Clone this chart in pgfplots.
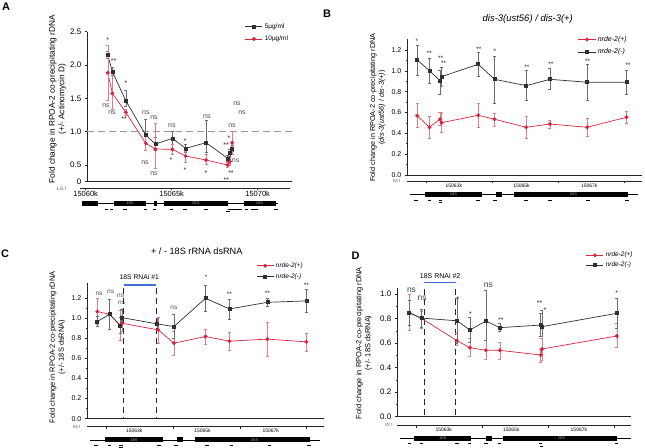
\documentclass[border=0pt]{standalone}
\usepackage{fontspec}
\setmainfont{Liberation Sans}
\usepackage{pgfplots}
\pgfplotsset{compat=1.18}
\definecolor{cblk}{HTML}{303030}
\definecolor{cblkerr}{HTML}{6E6E6E}
\definecolor{cred}{HTML}{D7263D}
\definecolor{crederr}{HTML}{E27C88}
\definecolor{cblue}{HTML}{3D6FD6}
\newcommand{\fs}[2]{\fontsize{#1}{#2}\selectfont}
\pgfplotsset{
  mainax/.style={scale only axis, axis x line*=bottom, axis y line*=left, xtick=\empty,
    scaled x ticks=false, scaled y ticks=false,
    tick align=outside, clip=false, axis line style={line width=0.6pt, black!85},
    major tick length=2.5pt, minor tick length=1.5pt, tick style={line width=0.5pt, black!85},
    /pgf/number format/assume math mode=true,
    ylabel style={align=center, anchor=center},
    legend style={draw=none, fill=none, inner sep=0pt, anchor=north west, cells={anchor=west}}},
  genax/.style={scale only axis, axis x line*=bottom, hide y axis, ymin=0, ymax=10, height=10bp,
    scaled x ticks=false,
    clip=false, tick align=outside, major tick length=2pt, axis line style={line width=0.6pt, black!85},
    tick style={line width=0.5pt, black!85}, /pgf/number format/assume math mode=true},
  sblk/.style={color=cblk, mark=square*, mark size=1.5pt, line width=0.7pt, mark options={solid, fill=cblk},
    error bars/y dir=both, error bars/y explicit,
    error bars/error bar style={cblkerr, line width=0.5pt},
    error bars/error mark options={rotate=90, mark size=1.5pt, cblkerr, line width=0.5pt}},
  sred/.style={color=cred, mark=*, mark size=1.6pt, line width=0.7pt, mark options={solid, fill=cred},
    error bars/y dir=both, error bars/y explicit,
    error bars/error bar style={crederr, line width=0.5pt},
    error bars/error mark options={rotate=90, mark size=1.5pt, crederr, line width=0.5pt}},
}
\tikzset{
  nsA/.style={font=\fs{7}{7}, inner sep=0pt, text=black!70},
  stA/.style={font=\fs{7}{7}, inner sep=0pt, text=black!85, yshift=-1.5pt},
  stB/.style={font=\fs{6.5}{7}, inner sep=0pt, text=black!85, yshift=-1.4pt},
  nsC/.style={font=\fs{6.5}{7}, inner sep=0pt, text=black!70},
  nsD/.style={font=\fs{8.5}{9}, inner sep=0pt, text=black!75},
  stD/.style={font=\fs{7}{7}, inner sep=0pt, text=black!85, yshift=-1.5pt},
  genlab/.style={font=\fs{4}{4}, inner sep=0pt, text=gray!70},
  letter/.style={font=\fs{11}{11}\bfseries, inner sep=0pt},
  lg/.style={font=\fs{4.5}{5}, inner sep=0pt, text=black!70},
}
\begin{document}
\begin{tikzpicture}
\path[use as bounding box] (0bp,0bp) rectangle (645bp,448bp);

%================ PANEL A =================
\begin{axis}[mainax, at={(87.3bp,266.3bp)}, anchor=south west, width=204.7bp, height=150bp,
  xmin=15060.09, xmax=15072, ymin=0.25, ymax=2.5,
  ytick={0.25,0.5,1,1.5,2,2.5}, yticklabels={0,0.5,1.0,1.5,2.0,2.5},
  yticklabel style={font=\fs{8}{9}},
  ylabel={Fold change in RPOA-2 co-precipitating rDNA\\(+/- Actinomycin D)},
  ylabel style={font=\fs{8.3}{9.5}, at={(axis description cs:-0.146,0.55)}},
  legend style={at={(axis description cs:0.77,1.068)}, font=\fs{6.5}{7}, row sep=2pt}]
\addplot[gray!80, dash pattern=on 7pt off 4pt, line width=1.1pt, forget plot] coordinates {(15060.09,1) (15072,1)};
\addplot[sblk] table[x=x, y=y, y error plus=ep, y error minus=em] {
x y ep em
15061.28 2.150 0.05 0.05
15061.55 1.900 0.07 0.06
15062.33 1.465 0.16 0.08
15063.49 0.950 0.24 0.12
15064.05 0.815 0.10 0.10
15065.04 0.900 0.10 0.09
15065.81 0.750 0.06 0.06
15067.00 0.835 0.33 0.14
15068.26 0.600 0.04 0.04
15068.39 0.685 0.05 0.05
15068.52 0.750 0.05 0.05
};
\addlegendentry{5µg/ml}
\addplot[sred] table[x=x, y=y, y error plus=ep, y error minus=em] {
x y ep em
15061.28 1.885 0.41 0.41
15061.55 1.575 0.35 0.24
15062.33 1.290 0.04 0.04
15063.49 0.825 0.14 0.10
15064.05 0.740 0.39 0.29
15065.04 0.735 0.07 0.07
15065.81 0.635 0.07 0.09
15067.00 0.575 0.09 0.07
15068.26 0.500 0.04 0.04
15068.39 0.550 0.06 0.06
15068.52 0.835 0.17 0.17
};
\addlegendentry{10µg/ml}
\node[stA] at (axis cs:15061.28,2.40) {*};
\node[stA] at (axis cs:15061.62,2.075) {**};
\node[stA] at (axis cs:15062.34,1.745) {*};
\node[nsA] at (axis cs:15061.18,1.385) {ns};
\node[nsA] at (axis cs:15061.53,1.28) {ns};
\node[stA] at (axis cs:15062.23,1.205) {**};
\node[nsA] at (axis cs:15063.50,1.28) {ns};
\node[nsA] at (axis cs:15063.97,1.205) {ns};
\node[nsA] at (axis cs:15065.01,1.085) {ns};
\node[nsA] at (axis cs:15067.05,1.22) {ns};
\node[nsA] at (axis cs:15068.80,1.415) {ns};
\node[nsA] at (axis cs:15069.09,1.28) {ns};
\node[nsA] at (axis cs:15068.51,1.085) {ns};
\node[nsA] at (axis cs:15063.45,0.53) {ns};
\node[nsA] at (axis cs:15063.97,0.365) {ns};
\node[stA] at (axis cs:15064.96,0.59) {*};
\node[stA] at (axis cs:15065.77,0.875) {*};
\node[stA] at (axis cs:15065.77,0.44) {*};
\node[stA] at (axis cs:15067.00,0.395) {*};
\node[stA] at (axis cs:15068.33,0.92) {*};
\node[stA] at (axis cs:15068.16,0.815) {**};
\node[stA] at (axis cs:15068.45,0.40) {**};
\node[stA] at (axis cs:15068.18,0.30) {**};
\node[nsA] at (axis cs:15068.72,0.56) {ns};
\end{axis}
\begin{axis}[genax, at={(80bp,260bp)}, anchor=south west, width=210bp, xmin=15059.67, xmax=15071.88,
  xtick={15060,15065,15070}, xticklabels={15060k,15065k,15070k}, xticklabel style={font=\fs{7.5}{8}, inner sep=1pt}]
\draw[line width=0.6pt] (axis cs:15059.8,-15.3) -- (axis cs:15071.2,-15.3);
\fill (axis cs:15059.8,-12.7) rectangle (axis cs:15060.7,-18);
\fill (axis cs:15061.66,-12.7) rectangle (axis cs:15063.5,-18);
\fill (axis cs:15063.99,-12.7) rectangle (axis cs:15064.13,-18);
\fill (axis cs:15064.57,-12.7) rectangle (axis cs:15068.26,-18);
\fill (axis cs:15069.2,-12.7) rectangle (axis cs:15071.05,-18);
\node[genlab] at (axis cs:15062.58,-15.4) {18S};
\node[genlab] at (axis cs:15066.4,-15.4) {26S};
\node[genlab] at (axis cs:15070.1,-15.4) {18S};
\addplot[only marks, mark=-, mark size=1.8pt, mark options={line width=0.7pt}] coordinates {
(15061.22,-21) (15061.51,-21) (15062.28,-21) (15063.49,-21) (15063.99,-21) (15065.0,-21)
(15065.79,-21) (15066.99,-21) (15068.39,-21) (15068.58,-21) (15068.78,-21) (15068.97,-21)
(15069.36,-21) (15069.74,-21) (15069.94,-21) (15071.06,-21)};
\addplot[only marks, mark=-, mark size=1.8pt, mark options={line width=0.7pt}] coordinates {(15068.26,-23.5)};
\end{axis}
\node[lg, font=\fs{5}{5}] at (61.7bp,259.7bp) {LG I};
\node[letter] at (6bp,441.3bp) {A};

%================ PANEL B =================
\begin{axis}[mainax, at={(407.3bp,273bp)}, anchor=south west, width=234.4bp, height=135.5bp,
  xmin=15061.42, xmax=15068.52, ymin=0, ymax=1.3,
  ytick={0,0.2,0.4,0.6,0.8,1.0,1.2}, minor y tick num=1,
  yticklabel style={font=\fs{7}{8}, /pgf/number format/.cd, fixed, fixed zerofill, precision=1},
  ylabel={Fold change in RPOA-2 co-precipitating rDNA\\(\textit{dis-3(ust56)} / \textit{dis-3(+)})},
  ylabel style={font=\fs{7.3}{8.8}, at={(axis description cs:-0.127,0.498)}},
  title={\textit{dis-3(ust56) / dis-3(+)}},
  title style={at={(axis description cs:0.514,1.107)}, anchor=center, font=\fs{9.5}{10}},
  legend style={at={(axis description cs:0.728,1.04)}, font=\fs{7}{8}, row sep=2pt}]
\addplot[sred] table[x=x, y=y, y error plus=ep, y error minus=em] {
x y ep em
15061.72 0.569 0.119 0.111
15062.09 0.458 0.102 0.106
15062.41 0.535 0.063 0.060
15062.46 0.502 0.100 0.096
15063.57 0.573 0.115 0.115
15064.06 0.535 0.057 0.071
15065.02 0.458 0.108 0.106
15065.74 0.489 0.039 0.041
15066.87 0.458 0.086 0.090
15068.06 0.554 0.060 0.058
};
\addlegendentry{\textit{nrde-2(+)}}
\addplot[sblk] table[x=x, y=y, y error plus=ep, y error minus=em] {
x y ep em
15061.72 1.104 0.144 0.151
15062.09 1.001 0.120 0.121
15062.41 0.905 0.100 0.128
15062.46 0.944 0.086 0.094
15063.57 1.062 0.112 0.118
15064.06 0.918 0.217 0.230
15065.02 0.857 0.144 0.144
15065.74 0.918 0.102 0.099
15066.87 0.890 0.169 0.173
15068.06 0.890 0.111 0.116
};
\addlegendentry{\textit{nrde-2(-)}}
\node[stB] at (axis cs:15061.71,1.296) {*};
\node[stB] at (axis cs:15062.09,1.183) {**};
\node[stB] at (axis cs:15062.43,1.13) {**};
\node[stB] at (axis cs:15062.52,1.082) {**};
\node[stB] at (axis cs:15063.59,1.216) {**};
\node[stB] at (axis cs:15064.07,1.2) {*};
\node[stB] at (axis cs:15065.04,1.046) {**};
\node[stB] at (axis cs:15065.77,1.072) {**};
\node[stB] at (axis cs:15066.88,1.104) {**};
\node[stB] at (axis cs:15068.10,1.062) {**};
\end{axis}
\begin{axis}[genax, at={(407.3bp,266.7bp)}, anchor=south west, width=234.4bp, xmin=15061.42, xmax=15068.52,
  xtick={15062,15064,15066,15068}, xticklabels={,,,},
  extra x ticks={15062.83,15064.88,15066.93}, extra x tick labels={15063k,15065k,15067k},
  extra x tick style={major tick length=0pt}, xticklabel style={font=\fs{5}{5}, inner sep=1pt, yshift=-1.5pt}]
\draw[line width=0.6pt] (axis cs:15061.5,-13.2) -- (axis cs:15068.4,-13.2);
\fill (axis cs:15061.95,-10.6) rectangle (axis cs:15063.69,-15.9);
\fill (axis cs:15064.12,-10.6) rectangle (axis cs:15064.30,-15.9);
\fill (axis cs:15064.65,-10.6) rectangle (axis cs:15068.1,-15.9);
\node[genlab] at (axis cs:15062.82,-13.3) {18S};
\node[genlab] at (axis cs:15066.45,-13.3) {26S};
\addplot[only marks, mark=-, mark size=1.8pt, mark options={line width=0.7pt}] coordinates {
(15061.68,-18.6) (15062.09,-18.6) (15062.43,-18.6) (15063.57,-18.6) (15064.08,-18.6)
(15065.01,-18.6) (15065.75,-18.6) (15066.89,-18.6) (15068.08,-18.6)};
\addplot[only marks, mark=-, mark size=1.8pt, mark options={line width=0.7pt}] coordinates {(15062.43,-21.3)};
\end{axis}
\node[lg] at (396.7bp,266.7bp) {IG I};
\node[letter] at (327bp,434bp) {B};

%================ PANEL C =================
\begin{axis}[mainax, at={(87.3bp,29.3bp)}, anchor=south west, width=236.4bp, height=135.8bp,
  xmin=15061.42, xmax=15068.52, ymin=0, ymax=1.35,
  ytick={0,0.2,0.4,0.6,0.8,1.0,1.2}, minor y tick num=1,
  yticklabel style={font=\fs{7}{8}, /pgf/number format/.cd, fixed, fixed zerofill, precision=1},
  ylabel={Fold change in RPOA-2 co-precipitating rDNA\\(+/- 18S dsRNA)},
  ylabel style={font=\fs{7.5}{9}, at={(axis description cs:-0.126,0.526)}},
  title={+ / - 18S rRNA dsRNA},
  title style={at={(axis description cs:0.463,1.188)}, anchor=center, font=\fs{9.2}{10}},
  legend style={at={(axis description cs:0.714,1.165)}, font=\fs{6.5}{7}, row sep=0.5pt}]
\draw[cblue, line width=1.2pt] (axis cs:15062.52,1.33) -- (axis cs:15063.49,1.33);
\draw[black!85, dash pattern=on 6pt off 4pt, line width=0.9pt] (axis cs:15062.52,1.30) -- (axis cs:15062.52,0);
\draw[black!85, dash pattern=on 6pt off 4pt, line width=0.9pt] (axis cs:15063.49,1.30) -- (axis cs:15063.49,0);
\node[font=\fs{6.8}{7}, inner sep=0pt] at (axis cs:15062.98,1.41) {18S RNAi \#1};
\addplot[sred] table[x=x, y=y, y error plus=ep, y error minus=em] {
x y ep em
15061.72 1.065 0.13 0.13
15062.09 1.038 0.15 0.15
15062.41 0.926 0.15 0.15
15062.46 0.949 0.08 0.08
15063.55 0.883 0.13 0.13
15064.02 0.751 0.12 0.12
15064.97 0.817 0.075 0.075
15065.69 0.771 0.09 0.09
15066.83 0.791 0.17 0.17
15068.00 0.764 0.09 0.09
};
\addlegendentry{\textit{nrde-2(+)}}
\addplot[sblk] table[x=x, y=y, y error plus=ep, y error minus=em] {
x y ep em
15061.72 0.966 0.05 0.05
15062.09 1.038 0.15 0.15
15062.41 0.926 0.08 0.08
15062.46 1.005 0.08 0.08
15063.52 0.942 0.06 0.06
15064.02 0.916 0.12 0.12
15064.97 1.197 0.13 0.13
15065.69 1.091 0.10 0.10
15066.83 1.157 0.04 0.04
15068.00 1.171 0.115 0.115
};
\addlegendentry{\textit{nrde-2(-)}}
\node[nsC] at (axis cs:15061.77,1.246) {ns};
\node[nsC] at (axis cs:15062.12,1.262) {ns};
\node[nsC] at (axis cs:15062.42,1.223) {ns};
\node[nsC] at (axis cs:15062.45,1.157) {ns};
\node[nsC] at (axis cs:15064.02,1.107) {ns};
\node[stB] at (axis cs:15064.99,1.415) {*};
\node[stB] at (axis cs:15065.69,1.246) {**};
\node[stB] at (axis cs:15066.83,1.262) {**};
\node[stB] at (axis cs:15068.00,1.339) {**};
\end{axis}
\begin{axis}[genax, at={(87.3bp,21.3bp)}, anchor=south west, width=236.4bp, xmin=15061.42, xmax=15068.52,
  xtick={15062,15064,15066,15068}, xticklabels={,,,},
  extra x ticks={15062.83,15064.88,15066.93}, extra x tick labels={15063k,15065k,15067k},
  extra x tick style={major tick length=0pt}, xticklabel style={font=\fs{5}{5}, inner sep=1pt, yshift=-1.5pt}]
\draw[line width=0.6pt] (axis cs:15061.5,-13.3) -- (axis cs:15068.4,-13.3);
\fill (axis cs:15061.95,-10.8) rectangle (axis cs:15063.69,-15.8);
\fill (axis cs:15064.12,-10.8) rectangle (axis cs:15064.30,-15.8);
\fill (axis cs:15064.65,-10.8) rectangle (axis cs:15068.1,-15.8);
\node[genlab] at (axis cs:15062.82,-13.3) {18S};
\node[genlab] at (axis cs:15066.45,-13.3) {26S};
\addplot[only marks, mark=-, mark size=1.8pt, mark options={line width=0.7pt}] coordinates {
(15061.68,-18.2) (15062.09,-18.2) (15062.43,-18.2) (15063.57,-18.2) (15064.08,-18.2)
(15065.01,-18.2) (15065.75,-18.2) (15066.89,-18.2) (15068.08,-18.2)};
\addplot[only marks, mark=-, mark size=1.8pt, mark options={line width=0.7pt}] coordinates {(15062.43,-20.6)};
\end{axis}
\node[lg] at (76.7bp,21.3bp) {IG I};
\node[letter] at (5bp,194bp) {C};

%================ PANEL D =================
\begin{axis}[mainax, at={(397.3bp,31.3bp)}, anchor=south west, width=234bp, height=128.8bp,
  xmin=15061.42, xmax=15068.52, ymin=0, ymax=1.05,
  ytick={0,0.2,0.4,0.6,0.8,1.0}, minor y tick num=1,
  yticklabel style={font=\fs{8}{9}, /pgf/number format/.cd, fixed, fixed zerofill, precision=1},
  ylabel={Fold change in RPOA-2 co-precipitating rDNA\\(+/- 18S dsRNA)},
  ylabel style={font=\fs{7.5}{9}, at={(axis description cs:-0.143,0.572)}},
  legend style={at={(axis description cs:0.806,1.294)}, font=\fs{6.5}{7}, row sep=-0.5pt}]
\draw[cblue, line width=1.2pt] (axis cs:15062.24,1.092) -- (axis cs:15063.19,1.092);
\draw[black!85, dash pattern=on 6pt off 4pt, line width=0.9pt] (axis cs:15062.24,1.04) -- (axis cs:15062.24,0);
\draw[black!85, dash pattern=on 6pt off 4pt, line width=0.9pt] (axis cs:15063.19,1.04) -- (axis cs:15063.19,0);
\node[font=\fs{7}{7}, inner sep=0pt] at (axis cs:15062.72,1.144) {18S RNAi \#2};
\addplot[sred] table[x=x, y=y, y error plus=ep, y error minus=em] {
x y ep em
15061.78 0.848 0.15 0.145
15062.15 0.802 0.06 0.08
15063.23 0.620 0.06 0.04
15063.62 0.563 0.077 0.07
15064.11 0.541 0.08 0.07
15064.53 0.541 0.065 0.071
15065.77 0.503 0.05 0.063
15065.81 0.552 0.087 0.09
15068.08 0.658 0.10 0.09
};
\addlegendentry{\textit{nrde-2(+)}}
\addplot[sblk] table[x=x, y=y, y error plus=ep, y error minus=em] {
x y ep em
15061.78 0.848 0.10 0.10
15062.15 0.804 0.076 0.074
15063.23 0.782 0.18 0.18
15063.62 0.707 0.10 0.104
15064.11 0.780 0.247 0.155
15064.53 0.726 0.035 0.033
15065.77 0.747 0.095 0.095
15065.81 0.734 0.136 0.08
15068.08 0.843 0.122 0.12
};
\addlegendentry{\textit{nrde-2(-)}}
\node[nsD] at (axis cs:15061.85,1.032) {ns};
\node[nsD] at (axis cs:15062.17,0.965) {ns};
\node[stD] at (axis cs:15063.26,0.973) {*};
\node[stD] at (axis cs:15063.64,0.851) {*};
\node[nsD] at (axis cs:15064.18,1.073) {ns};
\node[stD] at (axis cs:15064.56,0.802) {**};
\node[stD] at (axis cs:15065.74,0.935) {**};
\node[stD] at (axis cs:15065.90,0.880) {*};
\node[stD] at (axis cs:15068.08,1.019) {*};
\end{axis}
\begin{axis}[genax, at={(397.3bp,22.3bp)}, anchor=south west, width=234bp, xmin=15061.42, xmax=15068.52,
  xtick={15062,15064,15066,15068}, xticklabels={,,,},
  extra x ticks={15062.83,15064.88,15066.93}, extra x tick labels={15063k,15065k,15067k},
  extra x tick style={major tick length=0pt}, xticklabel style={font=\fs{5}{5}, inner sep=1pt, yshift=-1.5pt}]
\draw[line width=0.6pt] (axis cs:15061.5,-12.6) -- (axis cs:15068.5,-12.6);
\fill (axis cs:15061.93,-10.2) rectangle (axis cs:15063.67,-15.2);
\fill (axis cs:15064.11,-10.2) rectangle (axis cs:15064.28,-15.2);
\fill (axis cs:15064.63,-10.2) rectangle (axis cs:15068.1,-15.2);
\node[genlab] at (axis cs:15062.8,-12.7) {18S};
\node[genlab] at (axis cs:15066.4,-12.7) {26S};
\addplot[only marks, mark=-, mark size=1.6pt, mark options={line width=0.7pt}] coordinates {
(15061.78,-17.6) (15062.15,-17.6) (15063.23,-17.6) (15063.62,-17.6) (15064.11,-17.6)
(15064.53,-17.6) (15065.77,-17.6) (15068.08,-17.6)};
\addplot[only marks, mark=-, mark size=1.6pt, mark options={line width=0.7pt}] coordinates {(15065.79,-20.3)};
\end{axis}
\node[lg] at (389bp,23bp) {IG I};
\node[letter] at (355.5bp,192bp) {D};
\end{tikzpicture}
\end{document}
